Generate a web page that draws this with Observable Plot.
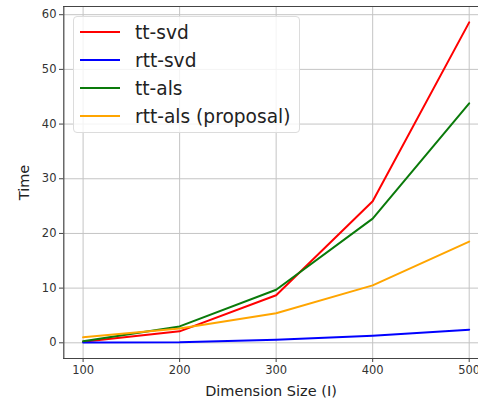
<!DOCTYPE html>
<html>
<head>
<meta charset="utf-8">
<script src="https://cdn.jsdelivr.net/npm/d3@7"></script>
<script src="https://cdn.jsdelivr.net/npm/@observablehq/plot@0.6"></script>
<style>
  html, body { margin: 0; padding: 0; background: #fff; }
  #wrap { position: relative; width: 478px; height: 401px; overflow: hidden; }
  #legend {
    position: absolute; left: 73px; top: 16px; width: 227px; height: 117px;
    box-sizing: border-box; border: 1px solid #dcdcdc; border-radius: 4px;
    background: rgba(255,255,255,0.8);
    font-family: "DejaVu Sans", sans-serif; font-size: 18.6px; color: #222;
  }
  .row { position: absolute; left: 0; height: 22px; display: flex; align-items: center; }
  .sw { width: 40px; height: 2px; margin-left: 6px; margin-right: 15px; }
</style>
</head>
<body>
<div id="wrap"><div id="legend"></div></div>
<script>
const sizes = [100, 200, 300, 400, 500];
const seriesNames = ["tt-svd", "rtt-svd", "tt-als", "rtt-als (proposal)"];
const seriesColors = ["#ff0000", "#0000ff", "#0a7a0a", "#ffa500"];
const ttSvd = [0.2, 2.1, 8.7, 25.9, 58.6];
const rttSvd = [0.05, 0.1, 0.55, 1.3, 2.4];
const ttAls = [0.3, 3.0, 9.7, 22.7, 43.8];
const rttAls = [1.0, 2.6, 5.4, 10.5, 18.5];
const xTicks = [100, 200, 300, 400, 500];
const yTicks = [0, 10, 20, 30, 40, 50, 60];

const allSeries = [ttSvd, rttSvd, ttAls, rttAls];
const rows = [];
allSeries.forEach((vals, i) => vals.forEach((v, j) => rows.push({series: seriesNames[i], size: sizes[j], time: v})));

const xDom = [80, 520], yDom = [-2.87, 61.5];
const tickFont = "DejaVu Sans, sans-serif";

const chart = Plot.plot({
  width: 478, height: 401,
  marginLeft: 63, marginRight: 0, marginTop: 6, marginBottom: 43,
  style: {fontFamily: tickFont, fontSize: "11.5px", color: "#333", background: "transparent"},
  x: {domain: xDom, range: [63.3, 488]},
  y: {domain: yDom, range: [358, 6]},
  color: {domain: seriesNames, range: seriesColors},
  marks: [
    Plot.gridX(xTicks, {stroke: "#c4c4c4", strokeOpacity: 1, strokeWidth: 1}),
    Plot.gridY(yTicks, {stroke: "#c4c4c4", strokeOpacity: 1, strokeWidth: 1}),
    Plot.axisX(xTicks, {tickSize: 4, tickPadding: 3, stroke: "#444", label: "Dimension Size (I)", labelAnchor: "center", labelArrow: "none", labelOffset: 37, fontSize: "11.5px"}),
    Plot.axisY(yTicks, {tickSize: 4, tickPadding: 3, stroke: "#444", label: "Time", labelAnchor: "center", labelArrow: "none", labelOffset: 45, fontSize: "11.5px"}),
    Plot.ruleX([xDom[0]], {stroke: "#444", strokeWidth: 1.2}),
    Plot.ruleY([yDom[0], yDom[1]], {stroke: "#444", strokeWidth: 1.2}),
    Plot.line(rows, {x: "size", y: "time", z: "series", stroke: "series", strokeWidth: 2})
  ]
});

d3.select(chart).selectAll("[aria-label='x-axis label'] text, [aria-label='y-axis label'] text")
  .style("font-size", "14.5px").style("fill", "#222");
document.getElementById("wrap").prepend(chart);

const legend = document.getElementById("legend");
seriesNames.forEach((name, i) => {
  const row = document.createElement("div");
  row.className = "row";
  row.style.top = (4 + i * 28) + "px";
  const sw = document.createElement("div");
  sw.className = "sw";
  sw.style.background = seriesColors[i];
  const lab = document.createElement("span");
  lab.textContent = name;
  row.appendChild(sw); row.appendChild(lab);
  legend.appendChild(row);
});
</script>
</body>
</html>
